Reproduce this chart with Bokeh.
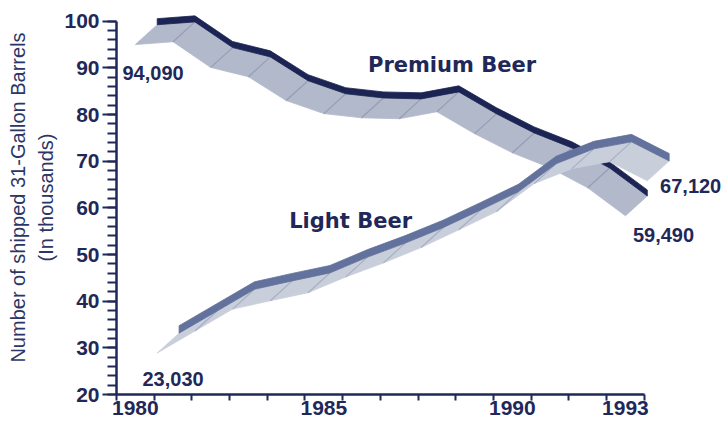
import numpy as np
from bokeh.plotting import figure
from bokeh.models import Range1d, FixedTicker
from bokeh.core.properties import value
from bokeh.embed import file_html
from bokeh.resources import INLINE

# ---- data ----
years = [1980, 1981, 1982, 1983, 1984, 1985, 1986, 1987, 1988, 1989, 1990, 1991, 1992, 1993]
premium = [95.0, 95.6, 90.1, 88.1, 83.0, 80.2, 79.3, 79.1, 80.6, 75.9, 71.8, 68.6, 64.3, 58.3]
light = [28.9, 33.6, 38.3, 40.1, 41.8, 45.2, 48.2, 51.5, 55.3, 59.2, 65.2, 68.4, 69.9, 65.8]
series_names = ["Premium Beer", "Light Beer"]
premium_end_labels = ["94,090", "59,490"]
light_end_labels = ["23,030", "67,120"]
x_tick_years = [1980, 1985, 1990, 1993]
y_ticks = [20, 30, 40, 50, 60, 70, 80, 90, 100]
y_title = "Number of shipped 31-Gallon Barrels\n(In thousands)"

# ---- style ----
NAVY = "#1f2858"
FONT = "Liberation Sans"
DX, DY = 0.58, 4.25          # 3-D depth offset (years, value units)
P_FACE, P_EDGE, P_DIV = "#b2b9cb", "#1c2454", "#959db4"
L_FACE, L_EDGE, L_DIV = "#c9cedb", "#62729c", "#a7afc4"

p = figure(width=721, height=422, output_backend="svg", toolbar_location=None,
           x_range=Range1d(1979.5, 1979.5 + 16.048), y_range=Range1d(20, 104.44),
           min_border_left=116, min_border_right=0, min_border_top=0, min_border_bottom=28)
p.outline_line_color = None
p.xgrid.visible = False
p.ygrid.visible = False
p.background_fill_color = "white"
p.border_fill_color = "white"


def ribbon(xs, ys, shift, thick, face, edge, div):
    fx = np.array(xs, dtype=float) + shift
    fy = np.array(ys, dtype=float)
    bx = fx + DX
    by = fy + DY
    pxs, pys = [], []
    for i in range(len(fx) - 1):
        pxs.append([fx[i], fx[i + 1], bx[i + 1], bx[i]])
        pys.append([fy[i], fy[i + 1], by[i + 1], by[i]])
    p.patches(pxs, pys, fill_color=face, line_color=face, line_width=0.8)
    p.segment(x0=fx[1:-1], y0=fy[1:-1], x1=bx[1:-1], y1=by[1:-1], line_color=div, line_width=1.2)
    sx = list(bx) + list(bx[::-1])
    sy = list(by) + list((by + thick)[::-1])
    p.patch(sx, sy, fill_color=edge, line_color=edge, line_width=0.8)


ribbon(years, premium, 0.0, 1.3, P_FACE, P_EDGE, P_DIV)
ribbon(years, light, DX, 1.6, L_FACE, L_EDGE, L_DIV)

tf = value(FONT)
# series names
p.text(x=[1988.4, 1985.71], y=[90.72, 57.29], text=series_names, text_font=value("DejaVu Sans"),
       text_font_style="bold", text_font_size="21px", text_color=NAVY,
       text_align="center", text_baseline="alphabetic")
# end-value labels
p.text(x=[years[0] + 0.47, years[-1] + 1.01, years[0] + 1.0, years[-1] + 1.73],
       y=[premium[0] - 6.2, premium[-1] - 4.2, light[0] - 5.5, light[-1] - 1.2],
       text=[premium_end_labels[0], premium_end_labels[1], light_end_labels[0], light_end_labels[1]],
       text_font=tf, text_font_style="bold", text_font_size="20px", text_color=NAVY,
       text_align="center", text_baseline="alphabetic")

# axes
xa = p.xaxis[0]
xa.ticker = FixedTicker(ticks=x_tick_years, minor_ticks=[y - 0.5 for y in years] + [years[-1] + 0.5])
xa.bounds = (years[0] - 0.5, years[-1] + 0.5)
xa.axis_line_color = NAVY
xa.axis_line_width = 2.5
xa.major_tick_line_color = None
xa.major_tick_out = 6
xa.major_tick_in = 0
xa.minor_tick_line_color = NAVY
xa.minor_tick_line_width = 2
xa.minor_tick_out = 6
xa.minor_tick_in = 0
xa.major_label_standoff = 0
xa.major_label_text_font = FONT
xa.major_label_text_font_style = "bold"
xa.major_label_text_font_size = "21px"
xa.major_label_text_color = NAVY

ya = p.yaxis[0]
ya.ticker = FixedTicker(ticks=y_ticks, minor_ticks=list(range(20, 101, 2)))
ya.bounds = (20, 100)
ya.axis_line_color = NAVY
ya.axis_line_width = 2.5
ya.major_tick_line_color = NAVY
ya.major_tick_line_width = 2
ya.major_tick_out = 14
ya.major_tick_in = 0
ya.minor_tick_line_color = NAVY
ya.minor_tick_line_width = 2
ya.minor_tick_out = 9
ya.minor_tick_in = 0
ya.major_label_standoff = 3
ya.major_label_text_font = FONT
ya.major_label_text_font_style = "bold"
ya.major_label_text_font_size = "21px"
ya.major_label_text_color = NAVY
ya.axis_label = y_title
ya.axis_label_text_font = FONT
ya.axis_label_text_font_style = "normal"
ya.axis_label_text_font_size = "20px"
ya.axis_label_text_color = "#2c3666"
ya.axis_label_standoff = 4
ya.axis_label_text_line_height = 1.3

open("out.html", "w").write(file_html(p, INLINE))
